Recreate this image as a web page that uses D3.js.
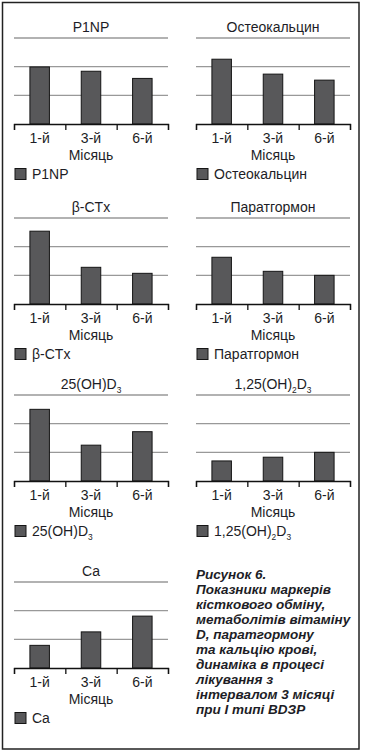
<!DOCTYPE html>
<html>
<head>
<meta charset="utf-8">
<script src="https://cdn.jsdelivr.net/npm/d3@7"></script>
<style>
  body { margin: 0; background: #fff; }
  svg { display: block; }
  text { font-family: "Liberation Sans", Arial, sans-serif; fill: #1d1d26; }
</style>
</head>
<body>
<div id="chart"></div>
<script>
// data (gridline units, gridlines at 1, 2, 3)
const months = ["1-й", "3-й", "6-й"];
const axisTitle = "Місяць";
const gridTicks = [1, 2, 3];
const p1np = [1.99, 1.84, 1.59];
const osteocalcin = [2.26, 1.74, 1.53];
const betaCtx = [2.54, 1.28, 1.07];
const pth = [1.63, 1.14, 1.0];
const vitD25 = [2.5, 1.25, 1.72];
const vitD125 = [0.7, 0.83, 1.0];
const calcium = [0.79, 1.26, 1.81];
const captionLines = [
    "Рисунок 6.",
    "Показники маркерів",
    "кісткового обміну,",
    "метаболітів вітаміну",
    "D, паратгормону",
    "та кальцію крові,",
    "динаміка в процесі",
    "лікування з",
    "інтервалом 3 місяці",
    "при І типі ВDЗР"
];

// "_3" marks a subscript
const panels = [
    { title: "P1NP", values: p1np, col: 0, row: 0 },
    { title: "Остеокальцин", values: osteocalcin, col: 1, row: 0 },
    { title: "β-CTx", values: betaCtx, col: 0, row: 1 },
    { title: "Паратгормон", values: pth, col: 1, row: 1 },
    { title: "25(OH)D_3", values: vitD25, col: 0, row: 2 },
    { title: "1,25(OH)_2D_3", values: vitD125, col: 1, row: 2 },
    { title: "Ca", values: calcium, col: 0, row: 3 }
];

const width = 366;
const height = 753;
const colX = [[14, 168], [196, 350]];
const rowBase = [124, 304, 481, 668];
const plotH = 86;

const svg = d3.select("#chart")
    .append("svg")
    .attr("width", width)
    .attr("height", height);

svg.append("rect")
    .attr("width", width).attr("height", height)
    .attr("fill", "#fff");

//Outer frame
svg.append("rect")
    .attr("x", 2.5).attr("y", 2.5)
    .attr("width", 356.5).attr("height", 746.5)
    .attr("fill", "none")
    .attr("stroke", "#222")
    .attr("stroke-width", 1.5);

function richText(sel, str) {
    const parts = str.split(/(_\d)/).filter(s => s !== "");
    let shifted = false;
    parts.forEach(p => {
        const t = sel.append("tspan");
        if (p.startsWith("_")) {
            t.text(p.slice(1)).attr("font-size", "0.6em").attr("dy", 4);
            shifted = true;
        } else {
            t.text(p);
            if (shifted) { t.attr("dy", -4); shifted = false; }
        }
    });
}

function drawPanel(p) {
    const [x0, x1] = colX[p.col];
    const base = rowBase[p.row];
    const cx = (x0 + x1) / 2;
    const g = svg.append("g");

    const x = d3.scaleBand()
        .domain(months)
        .range([x0, x1])
        .paddingInner(0.62)
        .paddingOuter(0.31);
    const edge = d3.scaleLinear().domain([0, months.length]).range([x0, x1]);
    const y = d3.scaleLinear().domain([0, 3]).range([base, base - plotH]);

    //Gridlines
    g.selectAll(".grid")
        .data(gridTicks)
        .enter().append("line")
        .attr("x1", x0).attr("x2", x1)
        .attr("y1", d => y(d)).attr("y2", d => y(d))
        .attr("stroke", "#999")
        .attr("stroke-width", 1.3);

    //Bars
    g.selectAll(".bar")
        .data(p.values)
        .enter().append("rect")
        .attr("x", (d, i) => x(months[i]))
        .attr("y", d => y(d))
        .attr("width", x.bandwidth())
        .attr("height", d => base - y(d))
        .attr("fill", "#58585a")
        .attr("stroke", "#151515")
        .attr("stroke-width", 1);

    //Axis line with boundary ticks
    const ax = g.append("g")
        .attr("transform", `translate(0,${base})`)
        .call(d3.axisBottom(edge).tickValues(d3.range(months.length + 1)).tickSize(6).tickFormat(""));
    ax.selectAll("path, line").attr("stroke", "#111").attr("stroke-width", 1.3);

    //Category labels
    const lab = g.append("g")
        .attr("transform", `translate(0,${base})`)
        .call(d3.axisBottom(x).tickSize(0).tickPadding(9));
    lab.select(".domain").remove();
    lab.attr("font-family", null).attr("font-size", null);
    lab.selectAll("text")
        .attr("fill", "#1d1d26")
        .style("font-size", "14px");

    g.append("text")
        .attr("x", cx).attr("y", base + 36)
        .attr("text-anchor", "middle")
        .style("font-size", "14px")
        .text(axisTitle);

    //Title
    g.append("text")
        .attr("x", cx).attr("y", base - 92)
        .attr("text-anchor", "middle")
        .style("font-size", "14px")
        .call(richText, p.title);

    //Legend
    g.append("rect")
        .attr("x", x0 + 1).attr("y", base + 44.5)
        .attr("width", 11).attr("height", 11)
        .attr("fill", "#58585a")
        .attr("stroke", "#151515");
    g.append("text")
        .attr("x", x0 + 18).attr("y", base + 55)
        .style("font-size", "14px")
        .call(richText, p.title);
}

panels.forEach(drawPanel);

//Caption
svg.append("text")
    .attr("x", 196)
    .style("font-size", "13.5px")
    .style("font-weight", "bold")
    .style("font-style", "italic")
    .selectAll("tspan")
    .data(captionLines)
    .enter().append("tspan")
    .attr("x", 196)
    .attr("y", (d, i) => 579 + i * 15)
    .text(d => d);
</script>
</body>
</html>
